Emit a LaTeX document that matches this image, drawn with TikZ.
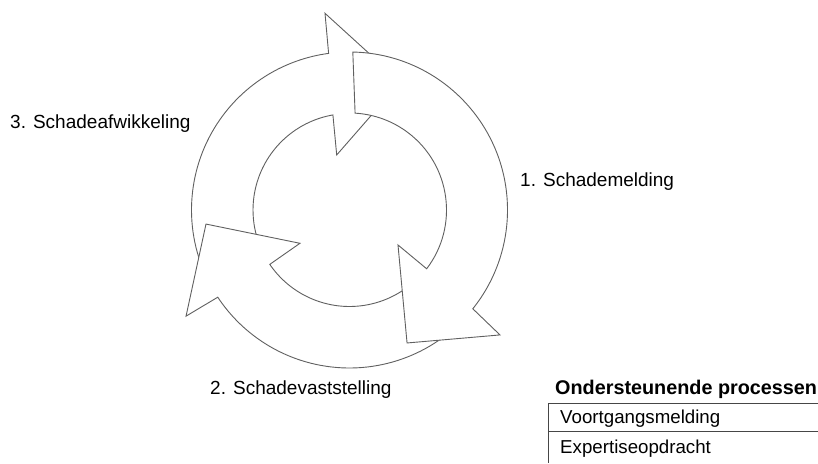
\documentclass[tikz,border=0pt]{standalone}
\usepackage{fontspec}
\setmainfont{Liberation Sans}
\definecolor{ringline}{RGB}{96,96,96}
\definecolor{tableline}{RGB}{70,70,70}
\tikzset{
  ringarrow/.style={draw=ringline, fill=white, line width=0.9pt, line join=miter},
  steplabel/.style={anchor=base west, inner sep=0pt, font=\fontsize{19}{21}\selectfont},
  tabletext/.style={anchor=base west, inner sep=0pt, font=\fontsize{18.7}{20}\selectfont},
  tablehead/.style={anchor=base west, inner sep=0pt, font=\fontsize{19.8}{21}\selectfont\bfseries},
  tablerule/.style={draw=tableline, line width=0.9pt}
}
\begin{document}
\begin{tikzpicture}[x=1pt, y=1pt]
\useasboundingbox (0,0) rectangle (818,463);

% three curved arrows around a common centre, drawn bottom to top
\begin{scope}[shift={(349.5,253)}]
  % 3. Schadeafwikkeling: from the left up to the top
  \draw[ringarrow] (205:158) arc[start angle=205, end angle=97.6, radius=158pt]
    -- (97.1:198.2) -- (68.3:137.8) -- (103.1:56.5) -- (99.9:96.5)
    arc[start angle=99.9, end angle=205, radius=96.5pt] -- cycle;
  % 2. Schadevaststelling: from the lower right round to the left
  \draw[ringarrow] (-48:158) arc[start angle=-48, end angle=-146.5, radius=158pt]
    -- (-147:194.9) -- (-174.4:144.2) -- (-146.1:59.7) -- (-145.7:96.5)
    arc[start angle=-145.7, end angle=-48, radius=96.5pt] -- cycle;
  % 1. Schademelding: from the top down the right side
  \draw[ringarrow] (88.8:158) arc[start angle=88.8, end angle=-38.7, radius=158pt]
    -- (-39.7:195.6) -- (-66.6:144.9) -- (-35.8:59.8) -- (-37.3:97)
    arc[start angle=-37.3, end angle=86.7, radius=97pt] -- cycle;
\end{scope}

% step labels
\node[steplabel] (s1) at (520,276) {1. Schademelding};
\node[steplabel] (s2) at (210,69) {2. Schadevaststelling};
\node[steplabel] (s3) at (10,334) {3. Schadeafwikkeling};

% supporting processes table
\node[tablehead] (th) at (555,69) {Ondersteunende processen};
\coordinate (tl) at (548,59.7);
\coordinate (tr) at (818,59.7);
\coordinate (bl) at (548,0);
\coordinate (ml) at (548,32);
\coordinate (mr) at (818,32);
\draw[tablerule] (tr) -- (tl) -- (bl);
\draw[tablerule] (ml) -- (mr);
\node[tabletext] (t1) at (560,39.7) {Voortgangsmelding};
\node[tabletext] (t2) at (560,9.7) {Expertiseopdracht};
\end{tikzpicture}
\end{document}
